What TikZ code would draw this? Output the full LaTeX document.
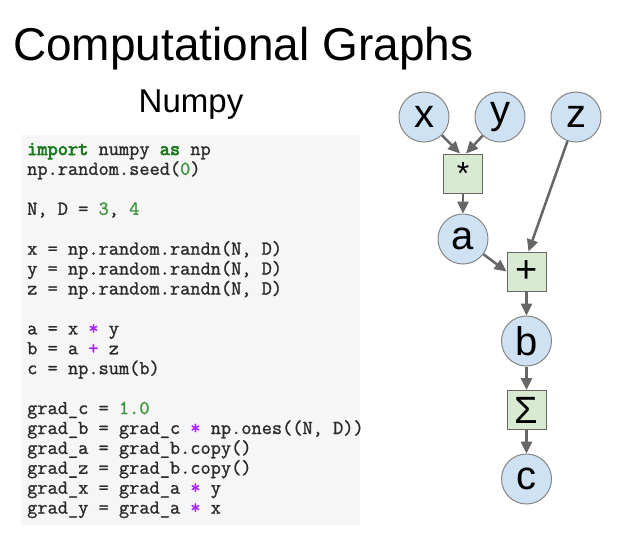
\documentclass[tikz,border=0pt]{standalone}
\usepackage{fontspec}
\setmainfont{Liberation Sans}
\newfontfamily\codefont{Latin Modern Mono}[FakeBold=1.2]
\newfontfamily\codebold{Latin Modern Mono}[FakeBold=3.5]
\usetikzlibrary{arrows.meta}
\definecolor{circfill}{HTML}{CFE2F3}
\definecolor{boxfill}{HTML}{D9EAD3}
\definecolor{edgegray}{HTML}{666666}
\definecolor{bordgray}{HTML}{858585}
\definecolor{codebg}{HTML}{F6F6F6}
\definecolor{kwgreen}{HTML}{1E7B1E}
\definecolor{numgreen}{HTML}{3C963C}
\definecolor{oppurple}{HTML}{AA22FF}
\definecolor{codetext}{HTML}{2B2B2B}
\newcommand{\kwd}[1]{\textcolor{kwgreen}{\codebold #1}}
\newcommand{\nmb}[1]{\textcolor{numgreen}{#1}}
\newcommand{\opr}[1]{\textcolor{oppurple}{#1}}
\begin{document}
\begin{tikzpicture}[x=1pt,y=-1pt,
  varnode/.style={circle,draw=bordgray,line width=1pt,fill=circfill,minimum size=50pt,inner sep=0pt,font=\fontsize{40}{40}\selectfont},
  opnode/.style={rectangle,draw=edgegray,line width=1pt,fill=boxfill,minimum size=39pt,inner sep=0pt,font=\fontsize{38}{38}\selectfont},
  edge/.style={draw=edgegray,line width=2.5pt,-{Triangle[length=12pt,width=11pt]}},
  codeline/.style={anchor=base west,inner sep=0pt,text=codetext,font=\codefont\fontsize{19.8}{20}\selectfont}
]
\useasboundingbox (0,0) rectangle (644,536);
% title
\node[anchor=base west,inner sep=0pt,font=\fontsize{46}{46}\selectfont] (title) at (13,60) {Computational Graphs};
\node[anchor=base,inner sep=0pt,font=\fontsize{33}{33}\selectfont] (numpy) at (191,112) {Numpy};
% code box
\fill[codebg] (21,135) rectangle (360,525);
\node[codeline] (l1) at (27,155) {\kwd{import} numpy \kwd{as} np};
\node[codeline] (l2) at (27,174.9) {np.random.seed(\nmb{0})};
\node[codeline] (l3) at (27,214.8) {N, D = \nmb{3}, \nmb{4}};
\node[codeline] (l4) at (27,254.7) {x = np.random.randn(N, D)};
\node[codeline] (l5) at (27,274.6) {y = np.random.randn(N, D)};
\node[codeline] (l6) at (27,294.5) {z = np.random.randn(N, D)};
\node[codeline] (l7) at (27,334.4) {a = x \opr{*} y};
\node[codeline] (l8) at (27,354.3) {b = a \opr{+} z};
\node[codeline] (l9) at (27,374.2) {c = np.sum(b)};
\node[codeline] (l10) at (27,414.1) {grad\_c = \nmb{1.0}};
\node[codeline] (l11) at (27,434.0) {grad\_b = grad\_c \opr{*} np.ones((N, D))};
\node[codeline] (l12) at (27,453.9) {grad\_a = grad\_b.copy()};
\node[codeline] (l13) at (27,473.8) {grad\_z = grad\_b.copy()};
\node[codeline] (l14) at (27,493.7) {grad\_x = grad\_a \opr{*} y};
\node[codeline] (l15) at (27,513.6) {grad\_y = grad\_a \opr{*} x};
% graph
\node[varnode] (x) at (424,117) {x};
\node[varnode] (y) at (500,117) {y};
\node[varnode] (z) at (576,117) {z};
\node[opnode,font=\fontsize{32}{32}\selectfont] (mul) at (463,173.5) {*};
\node[varnode] (a) at (463,239) {a};
\node[opnode] (plus) at (526.5,271.5) {+};
\node[varnode] (b) at (526.5,341) {b};
\node[opnode] (sum) at (526.5,410) {Σ};
\node[varnode] (c) at (526.5,479) {c};
\draw[edge] (x) -- ([xshift=-3pt]mul.north);
\draw[edge] (y) -- ([xshift=3pt]mul.north);
\draw[edge] (mul) -- (a);
\draw[edge] (a) -- (plus.west);
\draw[edge] (z) -- ([xshift=2pt]plus.north);
\draw[edge] (plus) -- (b);
\draw[edge] (b) -- (sum);
\draw[edge] (sum) -- (c);
\end{tikzpicture}
\end{document}
